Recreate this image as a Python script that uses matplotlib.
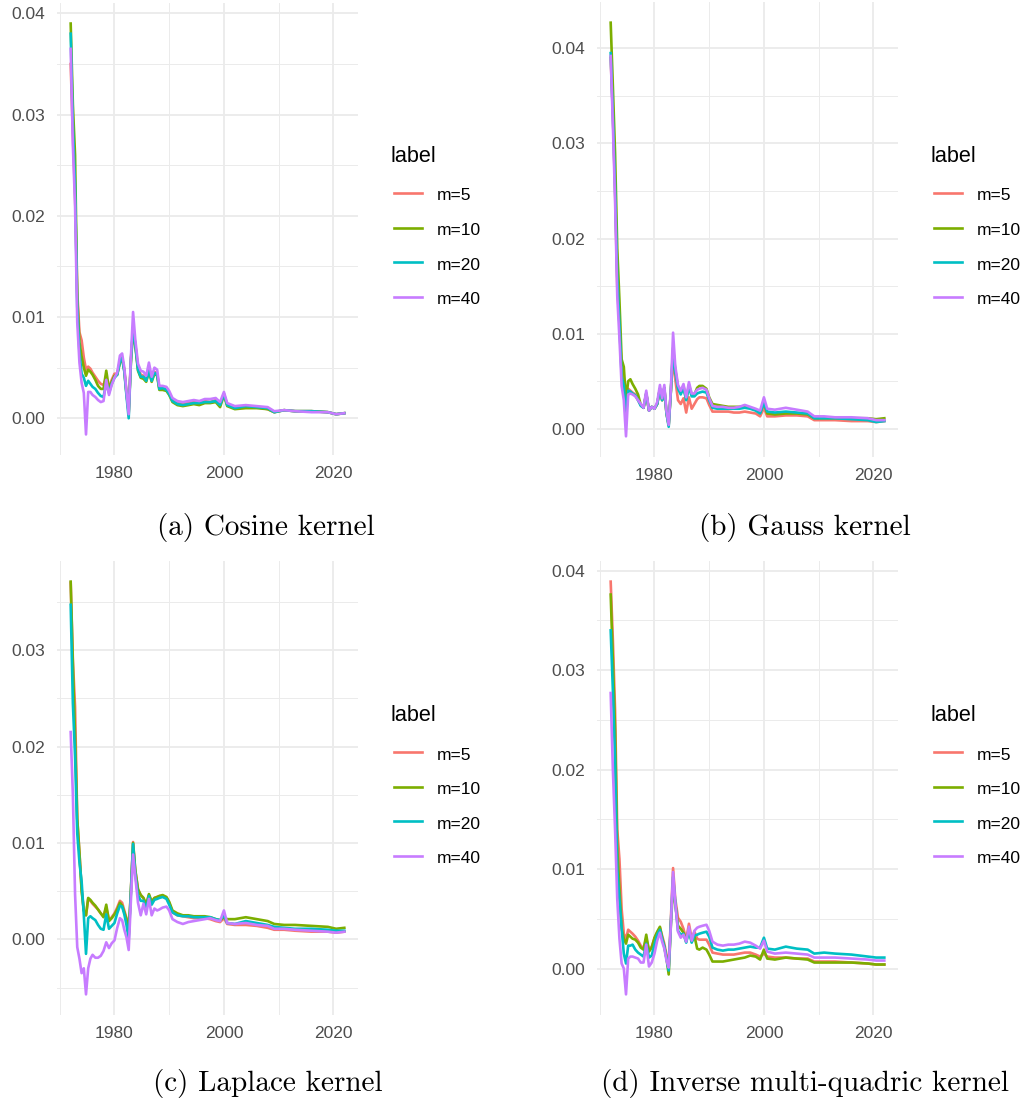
import numpy as np
import matplotlib
matplotlib.use("Agg")
import matplotlib.pyplot as plt
from matplotlib.lines import Line2D
from matplotlib.ticker import MultipleLocator, FormatStrFormatter

# shared time grid (years)
years = [
    1972.0, 1972.4, 1972.8, 1973.2, 1973.6, 1974.0, 1974.4, 1974.8, 1975.2, 1975.6,
    1976.0, 1976.5, 1977.0, 1977.5, 1978.0, 1978.5, 1979.0, 1979.5, 1980.0, 1980.5,
    1981.0, 1981.4, 1981.8, 1982.2, 1982.6, 1983.0, 1983.4, 1983.8, 1984.3, 1984.8,
    1985.3, 1985.8, 1986.3, 1986.8, 1987.3, 1987.8, 1988.2, 1988.8, 1989.5, 1990.0,
    1990.6, 1991.5, 1992.5, 1993.5, 1994.5, 1995.5, 1996.5, 1997.5, 1998.5, 1999.3,
    2000.0, 2000.6, 2002, 2004, 2006, 2008, 2009.2, 2011, 2013, 2016,
    2019, 2020.5, 2022,
]

labels = ["m=5", "m=10", "m=20", "m=40"]
colors = ["#F8766D", "#7CAE00", "#00BFC4", "#C77CFF"]

# (a) Cosine kernel
cos_m5 = [
    0.0350, 0.0280, 0.0220, 0.0125, 0.0085, 0.0077, 0.0060, 0.0048, 0.0051, 0.0049,
    0.0045, 0.0041, 0.0037, 0.0034, 0.0033, 0.0040, 0.0030, 0.0038, 0.0044, 0.0044,
    0.0056, 0.0060, 0.0048, 0.0025, 0.0005, 0.0058, 0.0088, 0.0074, 0.0050, 0.0043,
    0.0042, 0.0038, 0.0048, 0.0038, 0.0046, 0.0044, 0.0030, 0.0030, 0.0029, 0.0025,
    0.0018, 0.0015, 0.0014, 0.0015, 0.0016, 0.0015, 0.0017, 0.0016, 0.0018, 0.0013,
    0.0024, 0.0013, 0.0010, 0.0011, 0.0011, 0.0009, 0.0006, 0.0008, 0.0007, 0.0007,
    0.0006, 0.0004, 0.0005,
]
cos_m10 = [
    0.0390, 0.0310, 0.0260, 0.0120, 0.0075, 0.0061, 0.0050, 0.0042, 0.0048, 0.0046,
    0.0043, 0.0038, 0.0032, 0.0029, 0.0029, 0.0047, 0.0029, 0.0036, 0.0042, 0.0043,
    0.0055, 0.0059, 0.0047, 0.0024, 0.0006, 0.0055, 0.0087, 0.0072, 0.0047, 0.0040,
    0.0039, 0.0036, 0.0046, 0.0036, 0.0044, 0.0042, 0.0028, 0.0028, 0.0027, 0.0023,
    0.0016, 0.0013, 0.0012, 0.0013, 0.0014, 0.0013, 0.0015, 0.0015, 0.0016, 0.0011,
    0.0023, 0.0012, 0.0009, 0.0010, 0.0010, 0.0009, 0.0006, 0.0008, 0.0007, 0.0007,
    0.0006, 0.0004, 0.0005,
]
cos_m20 = [
    0.0380, 0.0290, 0.0230, 0.0110, 0.0065, 0.0044, 0.0040, 0.0032, 0.0037, 0.0034,
    0.0031, 0.0029, 0.0025, 0.0022, 0.0021, 0.0035, 0.0025, 0.0034, 0.0040, 0.0043,
    0.0056, 0.0060, 0.0046, 0.0022, 0.0000, 0.0056, 0.0090, 0.0073, 0.0048, 0.0041,
    0.0041, 0.0037, 0.0047, 0.0037, 0.0045, 0.0043, 0.0029, 0.0030, 0.0028, 0.0024,
    0.0017, 0.0014, 0.0013, 0.0014, 0.0015, 0.0015, 0.0016, 0.0016, 0.0017, 0.0013,
    0.0024, 0.0013, 0.0010, 0.0012, 0.0011, 0.0010, 0.0006, 0.0008, 0.0007, 0.0007,
    0.0006, 0.0004, 0.0005,
]
cos_m40 = [
    0.0365, 0.0270, 0.0210, 0.0095, 0.0055, 0.0035, 0.0025, -0.0016, 0.0026, 0.0026,
    0.0023, 0.0021, 0.0018, 0.0016, 0.0017, 0.0038, 0.0023, 0.0033, 0.0040, 0.0045,
    0.0062, 0.0064, 0.0050, 0.0026, 0.0004, 0.0060, 0.0105, 0.0078, 0.0054, 0.0047,
    0.0046, 0.0042, 0.0055, 0.0041, 0.0050, 0.0048, 0.0032, 0.0032, 0.0031, 0.0027,
    0.0020, 0.0017, 0.0016, 0.0017, 0.0018, 0.0017, 0.0019, 0.0019, 0.0020, 0.0016,
    0.0026, 0.0015, 0.0012, 0.0013, 0.0012, 0.0011, 0.0007, 0.0008, 0.0007, 0.0006,
    0.0006, 0.0004, 0.0005,
]

# (b) Gauss kernel
gauss_m5 = [
    0.0390, 0.0330, 0.0250, 0.0150, 0.0110, 0.0060, 0.0045, 0.0020, 0.0042, 0.0040,
    0.0038, 0.0036, 0.0030, 0.0025, 0.0022, 0.0037, 0.0019, 0.0023, 0.0021, 0.0026,
    0.0042, 0.0030, 0.0043, 0.0016, 0.0004, 0.0040, 0.0075, 0.0052, 0.0030, 0.0026,
    0.0032, 0.0017, 0.0033, 0.0021, 0.0026, 0.0031, 0.0033, 0.0033, 0.0032, 0.0025,
    0.0018, 0.0018, 0.0018, 0.0018, 0.0017, 0.0017, 0.0018, 0.0017, 0.0016, 0.0013,
    0.0022, 0.0013, 0.0013, 0.0014, 0.0014, 0.0013, 0.0009, 0.0009, 0.0009, 0.0008,
    0.0008, 0.0007, 0.0008,
]
gauss_m10 = [
    0.0427, 0.0360, 0.0290, 0.0190, 0.0135, 0.0073, 0.0065, 0.0030, 0.0050, 0.0052,
    0.0047, 0.0042, 0.0036, 0.0025, 0.0022, 0.0037, 0.0019, 0.0023, 0.0021, 0.0026,
    0.0042, 0.0030, 0.0043, 0.0016, 0.0004, 0.0040, 0.0085, 0.0062, 0.0044, 0.0038,
    0.0045, 0.0031, 0.0046, 0.0036, 0.0036, 0.0043, 0.0045, 0.0045, 0.0042, 0.0033,
    0.0026, 0.0025, 0.0024, 0.0023, 0.0023, 0.0023, 0.0024, 0.0022, 0.0020, 0.0017,
    0.0027, 0.0016, 0.0015, 0.0016, 0.0016, 0.0015, 0.0011, 0.0011, 0.0011, 0.0011,
    0.0011, 0.0010, 0.0011,
]
gauss_m20 = [
    0.0395, 0.0330, 0.0255, 0.0160, 0.0110, 0.0055, 0.0045, 0.0015, 0.0040, 0.0039,
    0.0037, 0.0035, 0.0030, 0.0024, 0.0022, 0.0037, 0.0019, 0.0023, 0.0021, 0.0026,
    0.0042, 0.0030, 0.0043, 0.0016, 0.0002, 0.0040, 0.0082, 0.0060, 0.0042, 0.0036,
    0.0043, 0.0030, 0.0044, 0.0034, 0.0034, 0.0037, 0.0038, 0.0039, 0.0038, 0.0030,
    0.0022, 0.0021, 0.0021, 0.0021, 0.0021, 0.0021, 0.0022, 0.0021, 0.0019, 0.0016,
    0.0027, 0.0018, 0.0017, 0.0018, 0.0017, 0.0016, 0.0011, 0.0011, 0.0011, 0.0010,
    0.0009, 0.0007, 0.0008,
]
gauss_m40 = [
    0.0392, 0.0320, 0.0240, 0.0140, 0.0095, 0.0045, 0.0030, -0.0008, 0.0036, 0.0037,
    0.0036, 0.0034, 0.0030, 0.0026, 0.0022, 0.0040, 0.0019, 0.0023, 0.0021, 0.0028,
    0.0046, 0.0032, 0.0046, 0.0018, 0.0004, 0.0042, 0.0101, 0.0066, 0.0046, 0.0040,
    0.0047, 0.0033, 0.0049, 0.0037, 0.0037, 0.0041, 0.0042, 0.0043, 0.0041, 0.0032,
    0.0024, 0.0023, 0.0023, 0.0022, 0.0022, 0.0023, 0.0025, 0.0023, 0.0021, 0.0019,
    0.0033, 0.0021, 0.0020, 0.0022, 0.0020, 0.0018, 0.0013, 0.0013, 0.0012, 0.0012,
    0.0011, 0.0009, 0.0009,
]

# (c) Laplace kernel
lap_m5 = [
    0.0370, 0.0290, 0.0241, 0.0125, 0.0090, 0.0052, 0.0030, 0.0025, 0.0042, 0.0040,
    0.0037, 0.0034, 0.0031, 0.0027, 0.0024, 0.0033, 0.0020, 0.0023, 0.0027, 0.0033,
    0.0040, 0.0038, 0.0030, 0.0022, 0.0005, 0.0050, 0.0101, 0.0072, 0.0052, 0.0046,
    0.0043, 0.0036, 0.0046, 0.0039, 0.0043, 0.0044, 0.0045, 0.0045, 0.0043, 0.0038,
    0.0028, 0.0025, 0.0024, 0.0023, 0.0022, 0.0022, 0.0022, 0.0021, 0.0019, 0.0018,
    0.0022, 0.0016, 0.0015, 0.0015, 0.0014, 0.0012, 0.0010, 0.0010, 0.0009, 0.0008,
    0.0008, 0.0007, 0.0008,
]
lap_m10 = [
    0.0371, 0.0285, 0.0210, 0.0125, 0.0090, 0.0050, 0.0030, 0.0025, 0.0043, 0.0041,
    0.0038, 0.0035, 0.0031, 0.0027, 0.0023, 0.0036, 0.0019, 0.0022, 0.0026, 0.0031,
    0.0038, 0.0035, 0.0028, 0.0021, 0.0004, 0.0050, 0.0100, 0.0072, 0.0052, 0.0046,
    0.0043, 0.0036, 0.0047, 0.0039, 0.0043, 0.0044, 0.0045, 0.0046, 0.0044, 0.0039,
    0.0030, 0.0027, 0.0025, 0.0025, 0.0024, 0.0024, 0.0024, 0.0023, 0.0021, 0.0020,
    0.0023, 0.0021, 0.0021, 0.0023, 0.0021, 0.0019, 0.0016, 0.0015, 0.0015, 0.0014,
    0.0013, 0.0011, 0.0012,
]
lap_m20 = [
    0.0347, 0.0245, 0.0190, 0.0110, 0.0080, 0.0060, 0.0025, -0.0015, 0.0022, 0.0024,
    0.0022, 0.0020, 0.0015, 0.0011, 0.0010, 0.0026, 0.0011, 0.0014, 0.0017, 0.0027,
    0.0035, 0.0034, 0.0026, 0.0015, 0.0000, 0.0048, 0.0099, 0.0068, 0.0046, 0.0040,
    0.0040, 0.0032, 0.0045, 0.0036, 0.0041, 0.0042, 0.0043, 0.0044, 0.0042, 0.0036,
    0.0028, 0.0025, 0.0024, 0.0024, 0.0023, 0.0023, 0.0023, 0.0023, 0.0021, 0.0020,
    0.0025, 0.0017, 0.0016, 0.0019, 0.0017, 0.0015, 0.0013, 0.0012, 0.0011, 0.0011,
    0.0010, 0.0009, 0.0009,
]
lap_m40 = [
    0.0215, 0.0150, 0.0047, -0.0008, -0.0020, -0.0035, -0.0030, -0.0057, -0.0030, -0.0020,
    -0.0016, -0.0019, -0.0019, -0.0017, -0.0012, -0.0003, -0.0009, -0.0004, -0.0001, 0.0012,
    0.0022, 0.0020, 0.0010, 0.0002, -0.0011, 0.0040, 0.0088, 0.0065, 0.0038, 0.0025,
    0.0037, 0.0026, 0.0042, 0.0025, 0.0032, 0.0030, 0.0031, 0.0033, 0.0034, 0.0030,
    0.0021, 0.0018, 0.0016, 0.0018, 0.0019, 0.0020, 0.0021, 0.0022, 0.0020, 0.0019,
    0.0030, 0.0017, 0.0016, 0.0017, 0.0015, 0.0014, 0.0011, 0.0011, 0.0010, 0.0009,
    0.0008, 0.0007, 0.0008,
]

# (d) Inverse multi-quadric kernel
imq_m5 = [
    0.0389, 0.0330, 0.0260, 0.0140, 0.0110, 0.0060, 0.0035, 0.0030, 0.0039, 0.0037,
    0.0035, 0.0032, 0.0028, 0.0023, 0.0020, 0.0030, 0.0019, 0.0022, 0.0030, 0.0036,
    0.0041, 0.0033, 0.0025, 0.0014, 0.0002, 0.0050, 0.0101, 0.0070, 0.0051, 0.0047,
    0.0040, 0.0029, 0.0045, 0.0030, 0.0037, 0.0030, 0.0029, 0.0029, 0.0029, 0.0024,
    0.0016, 0.0015, 0.0014, 0.0014, 0.0014, 0.0015, 0.0016, 0.0016, 0.0014, 0.0012,
    0.0015, 0.0012, 0.0011, 0.0011, 0.0010, 0.0010, 0.0007, 0.0007, 0.0007, 0.0006,
    0.0005, 0.0004, 0.0004,
]
imq_m10 = [
    0.0376, 0.0310, 0.0240, 0.0120, 0.0080, 0.0040, 0.0030, 0.0025, 0.0034, 0.0032,
    0.0030, 0.0029, 0.0026, 0.0021, 0.0019, 0.0034, 0.0017, 0.0021, 0.0031, 0.0037,
    0.0042, 0.0031, 0.0022, 0.0010, -0.0006, 0.0044, 0.0083, 0.0065, 0.0043, 0.0040,
    0.0036, 0.0027, 0.0040, 0.0027, 0.0033, 0.0020, 0.0019, 0.0021, 0.0019, 0.0014,
    0.0007, 0.0007, 0.0007, 0.0008, 0.0009, 0.0010, 0.0011, 0.0013, 0.0012, 0.0009,
    0.0019, 0.0010, 0.0009, 0.0011, 0.0010, 0.0009, 0.0006, 0.0006, 0.0006, 0.0006,
    0.0005, 0.0004, 0.0004,
]
imq_m20 = [
    0.0340, 0.0280, 0.0210, 0.0100, 0.0070, 0.0040, 0.0015, 0.0005, 0.0023, 0.0023,
    0.0024, 0.0019, 0.0016, 0.0014, 0.0012, 0.0025, 0.0011, 0.0013, 0.0024, 0.0034,
    0.0039, 0.0030, 0.0022, 0.0010, -0.0002, 0.0046, 0.0092, 0.0067, 0.0038, 0.0034,
    0.0035, 0.0026, 0.0038, 0.0026, 0.0033, 0.0034, 0.0035, 0.0036, 0.0037, 0.0032,
    0.0021, 0.0019, 0.0018, 0.0019, 0.0019, 0.0020, 0.0021, 0.0022, 0.0021, 0.0021,
    0.0031, 0.0020, 0.0019, 0.0022, 0.0020, 0.0019, 0.0015, 0.0016, 0.0015, 0.0014,
    0.0012, 0.0011, 0.0011,
]
imq_m40 = [
    0.0277, 0.0200, 0.0140, 0.0070, 0.0030, 0.0005, 0.0000, -0.0026, 0.0010, 0.0012,
    0.0012, 0.0011, 0.0010, 0.0006, 0.0006, 0.0024, 0.0002, 0.0006, 0.0015, 0.0028,
    0.0036, 0.0027, 0.0020, 0.0008, 0.0001, 0.0044, 0.0097, 0.0066, 0.0037, 0.0031,
    0.0034, 0.0027, 0.0042, 0.0028, 0.0038, 0.0041, 0.0042, 0.0043, 0.0044, 0.0038,
    0.0027, 0.0024, 0.0023, 0.0024, 0.0024, 0.0025, 0.0027, 0.0026, 0.0023, 0.0020,
    0.0028, 0.0017, 0.0015, 0.0016, 0.0015, 0.0014, 0.0011, 0.0011, 0.0011, 0.0010,
    0.0009, 0.0008, 0.0008,
]

captions = ["(a) Cosine kernel", "(b) Gauss kernel",
            "(c) Laplace kernel", "(d) Inverse multi-quadric kernel"]
panel_series = [
    [cos_m5, cos_m10, cos_m20, cos_m40],
    [gauss_m5, gauss_m10, gauss_m20, gauss_m40],
    [lap_m5, lap_m10, lap_m20, lap_m40],
    [imq_m5, imq_m10, imq_m20, imq_m40],
]

W, H = 1026, 1105
fig = plt.figure(figsize=(W / 100, H / 100), dpi=100)
fig.patch.set_facecolor("white")

SANS = "Liberation Sans"
GRID = "#EBEBEB"


def px_rect(left, top, right, bottom):
    return [left / W, 1 - bottom / H, (right - left) / W, (bottom - top) / H]


def fx(x):
    return x / W


def fy(y):
    return 1 - y / H


# panel boxes in pixels (left, top, right, bottom), legend origin, caption centre
layout = [
    ((57, 3, 358, 455), (391, 162), (266, 527)),
    ((597, 2, 898, 457), (931, 162), (805, 527)),
    ((57, 561, 358, 1015), (391, 721), (268, 1083)),
    ((597, 561, 898, 1015), (931, 721), (805, 1083)),
]

for series, caption, (box, leg_xy, cap_xy) in zip(panel_series, captions, layout):
    ax = fig.add_axes(px_rect(*box))
    for vals, lab, col in zip(series, labels, colors):
        ax.plot(years, vals, color=col, lw=1.9, label=lab,
                solid_joinstyle="round")

    # ggplot-style 5% expansion
    allv = np.concatenate([np.asarray(s) for s in series])
    lo, hi = allv.min(), allv.max()
    pad = 0.05 * (hi - lo)
    ax.set_ylim(lo - pad, hi + pad)
    xpad = 0.05 * (years[-1] - years[0])
    ax.set_xlim(years[0] - xpad, years[-1] + xpad)

    ax.yaxis.set_major_locator(MultipleLocator(0.01))
    ax.yaxis.set_minor_locator(MultipleLocator(0.005))
    ax.xaxis.set_major_locator(MultipleLocator(20))
    ax.xaxis.set_minor_locator(MultipleLocator(10))
    ax.yaxis.set_major_formatter(FormatStrFormatter("%.2f"))

    ax.grid(which="major", color=GRID, lw=1.3)
    ax.grid(which="minor", color=GRID, lw=0.7)
    ax.set_axisbelow(True)
    for sp in ax.spines.values():
        sp.set_visible(False)
    ax.tick_params(which="both", length=0, labelsize=12.5,
                   labelcolor="#4D4D4D")
    ax.tick_params(axis="y", pad=8.5)
    ax.tick_params(axis="x", pad=8)
    for t in ax.get_xticklabels() + ax.get_yticklabels():
        t.set_fontfamily(SANS)

    # legend drawn by hand, ggplot style
    lx, ly = leg_xy
    fig.text(fx(lx), fy(ly), "label", family=SANS, size=15.6,
             color="black", va="baseline", ha="left")
    for i, (lab, col) in enumerate(zip(labels, colors)):
        yk = ly + 31 + 34.6 * i
        fig.add_artist(Line2D([fx(lx + 3), fx(lx + 31)], [fy(yk), fy(yk)],
                              color=col, lw=1.9,
                              transform=fig.transFigure))
        fig.text(fx(lx + 46), fy(yk + 7.5), lab, family=SANS, size=12.5,
                 color="black", va="baseline", ha="left")

    fig.text(fx(cap_xy[0]), fy(cap_xy[1]), caption, ha="center",
             va="center", family="cmr10", size=21)

fig.savefig("out.png", dpi=100, facecolor="white")
